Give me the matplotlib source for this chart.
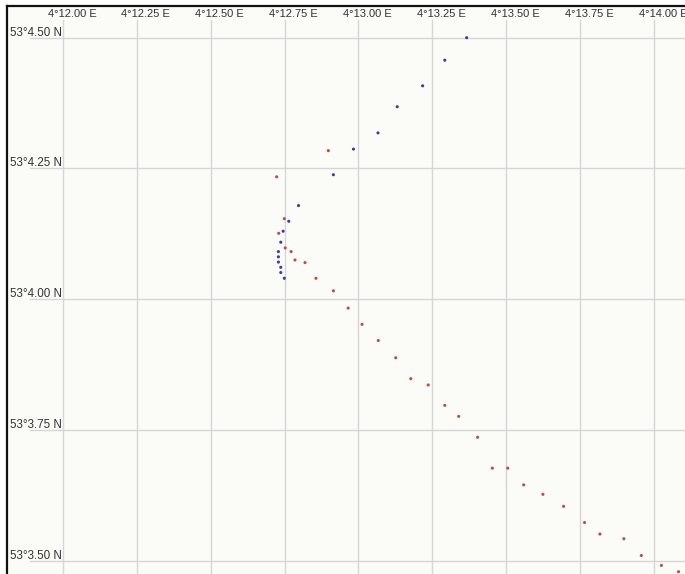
import matplotlib
matplotlib.use("Agg")
import matplotlib.pyplot as plt

# track fixes, minutes past 4°E / 53°N
blue_lon = [13.366, 13.292, 13.217, 13.131, 13.066, 12.983, 12.915, 12.797, 12.764,
            12.745, 12.737, 12.729, 12.729, 12.729, 12.737, 12.737, 12.749]
blue_lat = [4.500, 4.457, 4.408, 4.368, 4.318, 4.287, 4.238, 4.179, 4.149,
            4.130, 4.109, 4.091, 4.081, 4.071, 4.061, 4.051, 4.040]

red_lon = [12.898, 12.723, 12.749, 12.730, 12.752, 12.772, 12.785, 12.819, 12.856,
           12.915, 12.965, 13.012, 13.067, 13.126, 13.177, 13.236, 13.292, 13.339,
           13.403, 13.453, 13.505, 13.559, 13.624, 13.694, 13.765, 13.817, 13.898,
           13.957, 14.025, 14.083]
red_lat = [4.284, 4.234, 4.154, 4.126, 4.098, 4.091, 4.075, 4.070, 4.040,
           4.016, 3.983, 3.952, 3.921, 3.888, 3.848, 3.836, 3.797, 3.776,
           3.736, 3.677, 3.677, 3.645, 3.627, 3.604, 3.573, 3.551, 3.542,
           3.510, 3.491, 3.479]

lon_ticks = [12.00, 12.25, 12.50, 12.75, 13.00, 13.25, 13.50, 13.75, 14.00]
lat_ticks = [4.50, 4.25, 4.00, 3.75, 3.50]

bg = "#fbfcf8"
fig = plt.figure(figsize=(6.85, 5.74), dpi=100, facecolor="white")
ax = fig.add_axes([7 / 685, 0, 1 - 7 / 685, 1 - 6 / 574], facecolor=bg)

x0, x1 = 11.8105, 14.1049
y0, y1 = 3.4746, 4.5606
ax.set_xlim(x0, x1)
ax.set_ylim(y0, y1)

# grid: vertical lines stop under the top labels, horizontal ones start left of the plot
for lon in lon_ticks:
    ax.plot([lon, lon], [y0, 4.5338], color="#d6d6d6", lw=1, zorder=1)
for lat in lat_ticks:
    ax.plot([11.888, x1], [lat, lat], color="#d6d6d6", lw=1, zorder=1)

ax.scatter(blue_lon, blue_lat, s=5, color="#3a3aa8", edgecolors="none", zorder=3)
ax.scatter(red_lon, red_lat, s=5, color="#c44848", edgecolors="none", zorder=3)

for lon in lon_ticks:
    ax.annotate(f"4°{lon:.2f} E", xy=(lon, y1), xytext=(9, -8), textcoords="offset pixels",
                ha="center", va="center", fontsize=8, color="#333333",
                family="Liberation Sans", annotation_clip=False)
for lat in lat_ticks:
    ax.annotate(f"53°{lat:.2f} N", xy=(12.0, lat), xytext=(-1, 5), textcoords="offset pixels",
                ha="right", va="center", fontsize=8.4, color="#333333",
                family="Liberation Sans")

ax.set_xticks([])
ax.set_yticks([])
for side in ("right", "bottom"):
    ax.spines[side].set_visible(False)
for side in ("top", "left"):
    ax.spines[side].set_linewidth(1.6)
    ax.spines[side].set_color("#111111")

fig.savefig("out.png", dpi=100, facecolor="white")
